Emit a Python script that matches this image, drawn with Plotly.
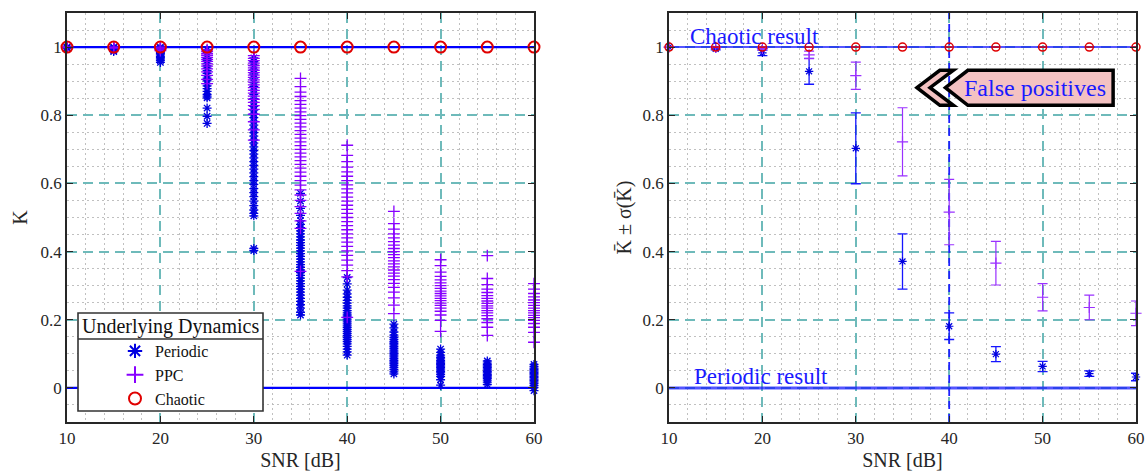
import plotly.graph_objects as go
from plotly.subplots import make_subplots

# ---- data -------------------------------------------------------------
SNR_DB = [10, 15, 20, 25, 30, 35, 40, 45, 50, 55, 60]

# K samples for periodic underlying dynamics, one list per SNR level
PERIODIC_K = [
    [1.000, 0.999, 0.998, 0.997],
    [1.000, 0.998, 0.996, 0.993, 0.990, 0.987],
    [1.000, 0.997, 0.994, 0.991, 0.988, 0.984, 0.981, 0.977, 0.973, 0.969, 0.965, 0.960, 0.955],
    [0.992, 0.984, 0.975, 0.967, 0.960, 0.952, 0.945, 0.938, 0.931, 0.923, 0.916, 0.909, 0.901,
     0.893, 0.886, 0.878, 0.870, 0.861, 0.856, 0.851, 0.821, 0.797, 0.776],
    [0.968, 0.957, 0.946, 0.933, 0.921, 0.909, 0.896, 0.884, 0.873, 0.861, 0.849, 0.838, 0.826,
     0.815, 0.804, 0.793, 0.782, 0.771, 0.760, 0.749, 0.739, 0.728, 0.718, 0.707, 0.696, 0.686,
     0.675, 0.664, 0.653, 0.642, 0.631, 0.620, 0.608, 0.597, 0.585, 0.573, 0.561, 0.548, 0.535,
     0.522, 0.512, 0.505, 0.409, 0.403],
    [0.571, 0.548, 0.527, 0.506, 0.491, 0.480, 0.470, 0.461, 0.452, 0.443, 0.434, 0.426, 0.418,
     0.410, 0.402, 0.394, 0.386, 0.378, 0.370, 0.362, 0.354, 0.346, 0.338, 0.330, 0.322, 0.314,
     0.306, 0.298, 0.290, 0.281, 0.272, 0.263, 0.254, 0.244, 0.234, 0.222, 0.214],
    [0.324, 0.305, 0.287, 0.276, 0.266, 0.257, 0.249, 0.241, 0.234, 0.227, 0.220, 0.214, 0.208,
     0.202, 0.196, 0.190, 0.184, 0.178, 0.172, 0.166, 0.160, 0.154, 0.148, 0.142, 0.136, 0.129,
     0.122, 0.114, 0.106, 0.096],
    [0.187, 0.176, 0.164, 0.155, 0.148, 0.142, 0.136, 0.131, 0.126, 0.121, 0.116, 0.111, 0.106,
     0.101, 0.096, 0.091, 0.086, 0.081, 0.076, 0.071, 0.066, 0.060, 0.054, 0.047, 0.041],
    [0.114, 0.104, 0.096, 0.090, 0.085, 0.080, 0.076, 0.072, 0.068, 0.064, 0.060, 0.056, 0.052,
     0.048, 0.044, 0.039, 0.033, 0.024, 0.008],
    [0.079, 0.073, 0.068, 0.064, 0.060, 0.056, 0.052, 0.048, 0.044, 0.040, 0.036, 0.032, 0.028,
     0.023, 0.017, 0.010],
    [0.069, 0.063, 0.058, 0.054, 0.050, 0.046, 0.042, 0.038, 0.034, 0.030, 0.026, 0.022, 0.018,
     0.013, 0.007, 0.001, -0.008],
]

# K samples for PPC underlying dynamics
PPC_K = [
    [1.000, 0.999],
    [1.000, 0.999, 0.997],
    [1.000, 0.997, 0.994, 0.990],
    [0.992, 0.987, 0.981, 0.976, 0.970, 0.964, 0.958, 0.951, 0.944, 0.936, 0.927, 0.917, 0.905, 0.893],
    [0.975, 0.967, 0.960, 0.953, 0.946, 0.939, 0.932, 0.925, 0.918, 0.911, 0.904, 0.897, 0.889,
     0.881, 0.873, 0.865, 0.856, 0.847, 0.838, 0.828, 0.817, 0.803, 0.781, 0.757, 0.727],
    [0.908, 0.884, 0.868, 0.855, 0.843, 0.832, 0.821, 0.810, 0.799, 0.788, 0.777, 0.766, 0.755,
     0.744, 0.733, 0.722, 0.711, 0.700, 0.689, 0.678, 0.667, 0.656, 0.645, 0.633, 0.621, 0.608,
     0.595, 0.581, 0.566, 0.550, 0.532, 0.512, 0.490, 0.468, 0.342],
    [0.712, 0.682, 0.664, 0.648, 0.634, 0.621, 0.608, 0.596, 0.584, 0.572, 0.560, 0.548, 0.536,
     0.524, 0.512, 0.500, 0.488, 0.476, 0.464, 0.452, 0.440, 0.428, 0.415, 0.402, 0.389, 0.375,
     0.360, 0.344, 0.326, 0.207],
    [0.518, 0.482, 0.466, 0.452, 0.440, 0.429, 0.419, 0.409, 0.400, 0.391, 0.382, 0.373, 0.364,
     0.355, 0.346, 0.337, 0.328, 0.318, 0.307, 0.295, 0.281, 0.264, 0.243, 0.218],
    [0.376, 0.359, 0.340, 0.327, 0.317, 0.308, 0.300, 0.292, 0.284, 0.277, 0.270, 0.263, 0.256,
     0.249, 0.242, 0.234, 0.225, 0.214, 0.198, 0.166],
    [0.388, 0.321, 0.303, 0.290, 0.280, 0.271, 0.263, 0.255, 0.248, 0.241, 0.234, 0.227, 0.220,
     0.212, 0.203, 0.192, 0.178, 0.154],
    [0.306, 0.290, 0.277, 0.267, 0.258, 0.250, 0.242, 0.234, 0.227, 0.220, 0.213, 0.206, 0.198,
     0.189, 0.178, 0.163, 0.134],
]

# chaotic underlying dynamics always give K = 1
CHAOTIC_K = [1, 1, 1, 1, 1, 1, 1, 1, 1, 1, 1]

# mean and standard deviation of K per SNR level
PERIODIC_MEAN = [1.000, 0.995, 0.983, 0.929, 0.703, 0.371, 0.181, 0.099, 0.063, 0.042, 0.032]
PERIODIC_STD = [0.000, 0.003, 0.008, 0.038, 0.104, 0.081, 0.039, 0.022, 0.015, 0.008, 0.011]
PPC_MEAN = [1.000, 0.999, 0.996, 0.977, 0.916, 0.722, 0.516, 0.366, 0.266, 0.236, 0.219]
PPC_STD = [0.000, 0.001, 0.004, 0.011, 0.040, 0.100, 0.096, 0.064, 0.040, 0.036, 0.036]
CHAOTIC_MEAN = [1, 1, 1, 1, 1, 1, 1, 1, 1, 1, 1]
CHAOTIC_STD = [0, 0, 0, 0, 0, 0, 0, 0, 0, 0, 0]

CHAOTIC_LEVEL = 1.0
PERIODIC_LEVEL = 0.0
HIGHLIGHT_SNR = 40
K_RANGE = [-0.1, 1.1]
SNR_RANGE = [10, 60]

# ---- styling ------------------------------------------------------------
FONT = "Liberation Serif, DejaVu Serif, serif"
BLUE = "#0000e0"
PURPLE = "#8800ff"
RED = "#e00000"
GRID_MAJOR = "rgb(110,186,186)"
GRID_MINOR = "rgba(185,185,185,0.9)"
FRAME = "#262626"
W, H = 1147, 474


def expand(levels, samples):
    xs, ys = [], []
    for snr, vals in zip(levels, samples):
        xs.extend([snr] * len(vals))
        ys.extend(vals)
    return xs, ys


fig = make_subplots(rows=1, cols=2, horizontal_spacing=0.1)

# ---- reference levels (drawn first so the markers sit on top) -------------
for col, color, w0, w1 in [(1, "#0000ff", 2.2, 2.2), (2, "rgba(20,20,255,0.72)", 2.0, 3.0)]:
    for level, w in ((CHAOTIC_LEVEL, w0), (PERIODIC_LEVEL, w1)):
        fig.add_trace(go.Scatter(
            x=SNR_RANGE, y=[level, level], mode="lines", showlegend=False,
            hoverinfo="skip", line=dict(color=color, width=w),
        ), row=1, col=col)

fig.add_trace(go.Scatter(
    x=[HIGHLIGHT_SNR, HIGHLIGHT_SNR], y=K_RANGE, mode="lines", showlegend=False,
    hoverinfo="skip", line=dict(color="#2020ff", width=1.8, dash="8px,5px"),
), row=1, col=2)

# ---- left panel: every K sample --------------------------------------------
px, py = expand(SNR_DB, PERIODIC_K)
fig.add_trace(go.Scatter(
    x=px, y=py, mode="markers", name="Periodic", cliponaxis=False,
    marker=dict(symbol="asterisk-open", size=7.5, color=BLUE,
                line=dict(color=BLUE, width=1.3)),
), row=1, col=1)

qx, qy = expand(SNR_DB, PPC_K)
fig.add_trace(go.Scatter(
    x=qx, y=qy, mode="markers", name="PPC", cliponaxis=False,
    marker=dict(symbol="cross-thin-open", size=8.5, color=PURPLE,
                line=dict(color=PURPLE, width=1.3)),
), row=1, col=1)

fig.add_trace(go.Scatter(
    x=SNR_DB, y=CHAOTIC_K, mode="markers", name="Chaotic", cliponaxis=False,
    marker=dict(symbol="circle-open", size=11, color=RED,
                line=dict(color=RED, width=2)),
), row=1, col=1)

# ---- right panel: mean +/- std ------------------------------------------
fig.add_trace(go.Scatter(
    x=SNR_DB, y=PERIODIC_MEAN, mode="markers", showlegend=False, cliponaxis=False,
    marker=dict(symbol="asterisk-open", size=7, color=BLUE,
                line=dict(color=BLUE, width=1.2)),
    error_y=dict(type="data", array=PERIODIC_STD, color="#1515ff", thickness=1.3, width=5),
), row=1, col=2)

fig.add_trace(go.Scatter(
    x=SNR_DB, y=PPC_MEAN, mode="markers", showlegend=False, cliponaxis=False,
    marker=dict(symbol="cross-thin-open", size=8, color="#9a30ff",
                line=dict(color="#9a30ff", width=1.2)),
    error_y=dict(type="data", array=PPC_STD, color="#9a30ff", thickness=1.2, width=5),
), row=1, col=2)

fig.add_trace(go.Scatter(
    x=SNR_DB, y=CHAOTIC_MEAN, mode="markers", showlegend=False, cliponaxis=False,
    marker=dict(symbol="circle-open", size=8, color=RED,
                line=dict(color=RED, width=1.5)),
    error_y=dict(type="data", array=CHAOTIC_STD, color=RED, thickness=1, width=3),
), row=1, col=2)

# ---- axes -----------------------------------------------------------------
axis_common = dict(
    showline=True, mirror="ticks", linecolor=FRAME, linewidth=1.5,
    ticks="inside", ticklen=6, tickwidth=1.2, tickcolor=FRAME,
    tickfont=dict(family=FONT, size=17, color="#262626"),
    showgrid=True, gridcolor=GRID_MAJOR, gridwidth=1.5, griddash="10px,6px",
    zeroline=False, automargin=False,
)
xaxis_common = dict(axis_common, range=SNR_RANGE, tick0=10, dtick=10,
                    minor=dict(dtick=2, showgrid=True, gridcolor=GRID_MINOR,
                               griddash="2px,3px", gridwidth=1),
                    title=dict(text="SNR [dB]", font=dict(family=FONT, size=20, color="#262626"),
                               standoff=6))
yaxis_common = dict(axis_common, range=K_RANGE, tick0=0, dtick=0.2,
                    minor=dict(dtick=0.05, showgrid=True, gridcolor=GRID_MINOR,
                               griddash="2px,3px", gridwidth=1))

fig.update_xaxes(xaxis_common)
fig.update_yaxes(yaxis_common)
fig.update_layout(
    xaxis=dict(domain=[67 / W, 534 / W]),
    xaxis2=dict(domain=[669 / W, 1136 / W]),
    yaxis=dict(domain=[1 - 422 / H, 1 - 13 / H],
               title=dict(text="K", font=dict(family=FONT, size=20, color="#262626"), standoff=8)),
    yaxis2=dict(domain=[1 - 422 / H, 1 - 13 / H],
                title=dict(text="K\u0304 \u00b1 \u03c3(K\u0304)",
                           font=dict(family=FONT, size=20, color="#262626"), standoff=6)),
)

# ---- text labels in the right panel ----------------------------------------
fig.add_annotation(x=12.0, y=CHAOTIC_LEVEL, xref="x2", yref="y2", text="Chaotic result",
                   showarrow=False, xanchor="left", yanchor="bottom", yshift=-4,
                   font=dict(family=FONT, size=23, color="#1a1aff"))
fig.add_annotation(x=12.5, y=PERIODIC_LEVEL, xref="x2", yref="y2", text="Periodic result",
                   showarrow=False, xanchor="left", yanchor="bottom", yshift=-3,
                   font=dict(family=FONT, size=23, color="#1a1aff"))

# "False positives" callout: double chevron pointing left
CALLOUT_X = [36.55, 39.0, 40.45, 37.95, 39.6, 42.0, 57.55]
CALLOUT_Y = [0.829, 0.881, 0.932]
x0, xa, xb, x1, xt, xc, xr = CALLOUT_X
yb, ym, yt = CALLOUT_Y
chevron = f"M {x0},{ym} L {xa},{yt} L {xb},{yt} L {x1},{ym} L {xb},{yb} L {xa},{yb} Z"
box = f"M {xt},{ym} L {xc},{yt} L {xr},{yt} L {xr},{yb} L {xc},{yb} Z"
for path in (chevron, box):
    fig.add_shape(type="path", path=path, xref="x2", yref="y2",
                  fillcolor="#f4c2c2", line=dict(color="black", width=3.5), layer="above")
fig.add_annotation(x=(xc + xr) / 2 - 0.6, y=ym, xref="x2", yref="y2", text="False positives",
                   showarrow=False, xanchor="center", yanchor="middle",
                   font=dict(family=FONT, size=24, color="#1a1aff"))

# ---- legend: framed box with a header row, entries from plotly's legend ----
LEG_L, LEG_R, LEG_T, LEG_B, LEG_HEAD = 78, 263, 313, 411, 339
fig.add_shape(type="rect", xref="paper", yref="paper",
              x0=LEG_L / W, x1=LEG_R / W, y0=1 - LEG_B / H, y1=1 - LEG_T / H,
              fillcolor="white", line=dict(color="#333333", width=1.6), layer="above")
fig.add_shape(type="line", xref="paper", yref="paper",
              x0=LEG_L / W, x1=LEG_R / W, y0=1 - LEG_HEAD / H, y1=1 - LEG_HEAD / H,
              line=dict(color="#333333", width=1.6), layer="above")
fig.add_annotation(x=(LEG_L + LEG_R) / 2 / W, y=1 - (LEG_T + LEG_HEAD) / 2 / H,
                   xref="paper", yref="paper", text="Underlying Dynamics", showarrow=False,
                   xanchor="center", yanchor="middle",
                   font=dict(family=FONT, size=20, color="#111111"))

fig.update_layout(
    width=W, height=H,
    margin=dict(l=0, r=0, t=0, b=0),
    paper_bgcolor="white", plot_bgcolor="white",
    showlegend=True,
    legend=dict(
        x=LEG_L / W, y=1 - 334 / H, xanchor="left", yanchor="top",
        bgcolor="rgba(0,0,0,0)", borderwidth=0,
        font=dict(family=FONT, size=16, color="#111111"),
        indentation=37, itemsizing="constant", tracegroupgap=0,
    ),
)

fig.write_html("out.html")
